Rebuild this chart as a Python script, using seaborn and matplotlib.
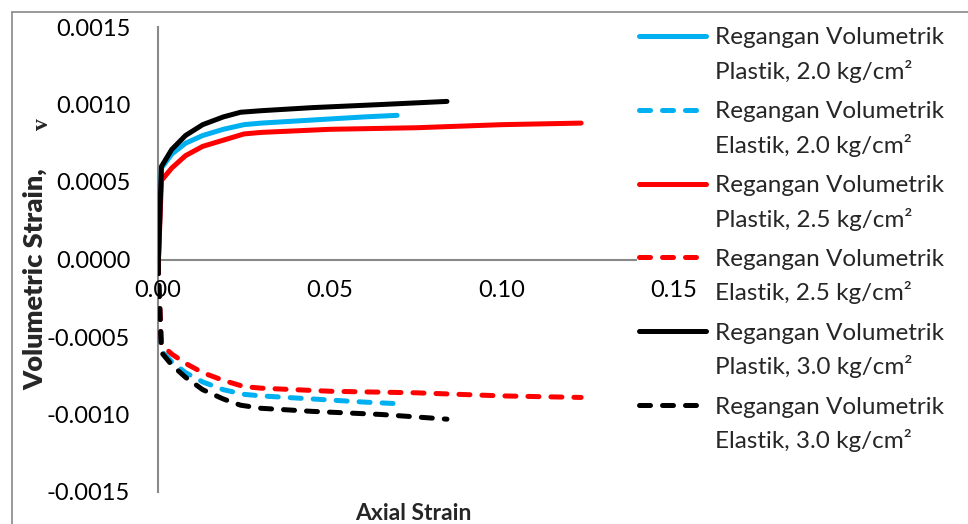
import matplotlib
matplotlib.use("Agg")
import numpy as np
import pandas as pd
import seaborn as sns
import matplotlib.pyplot as plt
from matplotlib.lines import Line2D

# ---------------- data ----------------
axial_20 = [0.0, 0.0010, 0.0040, 0.0080, 0.0130, 0.0190, 0.0250, 0.0300, 0.0450, 0.0600, 0.0695]
plastik_20 = [-0.00008, 0.00059, 0.00068, 0.00075, 0.00080, 0.00084, 0.00087, 0.00088, 0.00090, 0.00092, 0.00093]
elastik_20 = [-0.00002, -0.00059, -0.00066, -0.00073, -0.00079, -0.00084, -0.00087, -0.00088, -0.00090, -0.00092, -0.00093]

axial_25 = [0.0, 0.0010, 0.0040, 0.0080, 0.0130, 0.0190, 0.0250, 0.0300, 0.0500, 0.0750, 0.1000, 0.1230]
plastik_25 = [-0.00008, 0.00051, 0.00059, 0.00067, 0.00073, 0.00077, 0.00081, 0.00082, 0.00084, 0.00085, 0.00087, 0.00088]
elastik_25 = [-0.00002, -0.00055, -0.00061, -0.00067, -0.00073, -0.00078, -0.00082, -0.00083, -0.00085, -0.00086, -0.00088, -0.00089]

axial_30 = [0.0, 0.0010, 0.0040, 0.0080, 0.0130, 0.0190, 0.0240, 0.0300, 0.0450, 0.0650, 0.0840]
plastik_30 = [-0.00008, 0.00060, 0.00071, 0.00080, 0.00087, 0.00092, 0.00095, 0.00096, 0.00098, 0.00100, 0.00102]
elastik_30 = [-0.00002, -0.00060, -0.00068, -0.00076, -0.00084, -0.00090, -0.00094, -0.00096, -0.00098, -0.00100, -0.00103]

series_labels = [
    "Regangan Volumetrik\nPlastik, 2.0 kg/cm²",
    "Regangan Volumetrik\nElastik, 2.0 kg/cm²",
    "Regangan Volumetrik\nPlastik, 2.5 kg/cm²",
    "Regangan Volumetrik\nElastik, 2.5 kg/cm²",
    "Regangan Volumetrik\nPlastik, 3.0 kg/cm²",
    "Regangan Volumetrik\nElastik, 3.0 kg/cm²",
]
x_ticks = [0.00, 0.05, 0.10, 0.15]
x_tick_labels = ["0.00", "0.05", "0.10", "0.15"]
y_ticks = [-0.0015, -0.0010, -0.0005, 0.0000, 0.0005, 0.0010, 0.0015]
y_tick_labels = ["-0.0015", "-0.0010", "-0.0005", "0.0000", "0.0005", "0.0010", "0.0015"]

# ---------------- style ----------------
sns.set_theme(style="white")
plt.rcParams['font.family'] = ['Lato', 'DejaVu Sans']

BLUE, RED, BLACK = "#00B0F0", "#FF0000", "#000000"
GRAY = "#898989"
DASH = (0, (2.2, 2.4))
LW = 3.6

xs = [axial_20, axial_20, axial_25, axial_25, axial_30, axial_30]
ys = [plastik_20, elastik_20, plastik_25, elastik_25, plastik_30, elastik_30]
colors = [BLUE, BLUE, RED, RED, BLACK, BLACK]
styles = ['-', DASH, '-', DASH, '-', DASH]

W, H = 968, 524
fig = plt.figure(figsize=(W / 100, H / 100), dpi=100)
fig.patch.set_facecolor("white")

# outer chart border (left and top visible)
fig.add_artist(Line2D([12 / W, 12 / W], [1 - 12 / H, 0], color=GRAY, lw=1.2))
fig.add_artist(Line2D([12 / W, 1], [1 - 12 / H, 1 - 12 / H], color=GRAY, lw=1.2))

ax = fig.add_axes([158 / W, 1 - 492 / H, 516 / W, 465 / H])
ax.patch.set_alpha(0)

for x, y, c, ls, lab in zip(xs, ys, colors, styles, series_labels):
    df = pd.DataFrame({"axial": x, "vol": y})
    sns.lineplot(data=df, x="axial", y="vol", ax=ax, color=c, linewidth=LW,
                 linestyle=ls, sort=False, estimator=None, legend=False,
                 solid_capstyle='round', dash_capstyle='round', solid_joinstyle='round')

ax.set_xlim(0, 0.15)
ax.set_ylim(-0.0015, 0.0015)
ax.set_xticks(x_ticks)
ax.set_xticklabels(x_tick_labels)
ax.set_yticks(y_ticks)
ax.set_yticklabels(y_tick_labels)

for s in ['top', 'right']:
    ax.spines[s].set_visible(False)
ax.spines['left'].set_position(('data', 0))
ax.spines['bottom'].set_position(('data', 0))
ax.spines['bottom'].set_bounds(0, 0.139)
for s in ['left', 'bottom']:
    ax.spines[s].set_color(GRAY)
    ax.spines[s].set_linewidth(1.5)
    ax.spines[s].set_zorder(0.5)

ax.tick_params(axis='both', length=0, labelsize=17, colors='black')
ax.tick_params(axis='x', pad=15)
ax.tick_params(axis='y', pad=20)

ax.set_xlabel("Axial Strain", fontweight='bold', fontsize=16.5, va='baseline')
ax.xaxis.set_label_coords((413 - 158) / 516, (492 - 520) / 465)
ax.set_ylabel("Volumetric Strain,", fontweight='heavy', fontsize=19.5)
ax.yaxis.label.set_ha('center')
ax.yaxis.label.set_va('center')
ax.yaxis.set_label_coords((35 - 158) / 516, (492 - 279) / 465)
fig.text(43 / W, 1 - 124 / H, "v", rotation=90, ha='center', va='center',
         family='Liberation Serif', fontweight='bold', fontsize=17)

# ---------------- legend (handle aligned with first text line) ----------------
row0, row_step, line_gap = 36, 73.8, 33.5
for i, (c, ls, lab) in enumerate(zip(colors, styles, series_labels)):
    yc = row0 + i * row_step
    fig.add_artist(Line2D([639 / W, 706 / W], [1 - yc / H, 1 - yc / H], color=c,
                          lw=LW, linestyle=ls, solid_capstyle='round', dash_capstyle='round'))
    l1, l2 = lab.split("\n")
    fig.text(715 / W, 1 - yc / H, l1, ha='left', va='center_baseline', fontsize=17.5)
    fig.text(715 / W, 1 - (yc + line_gap) / H, l2, ha='left', va='center_baseline', fontsize=17.5)

fig.savefig("out.png", dpi=100, facecolor="white")
